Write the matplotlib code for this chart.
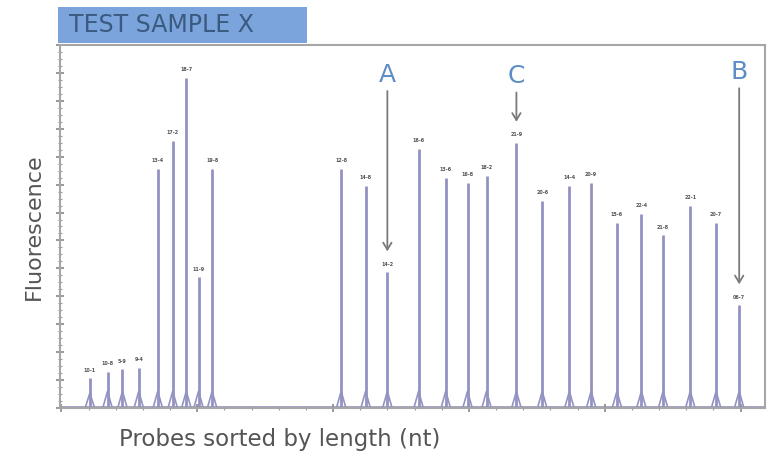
import matplotlib
matplotlib.use('Agg')
import matplotlib.pyplot as plt
from matplotlib.patches import Rectangle
from matplotlib.ticker import MultipleLocator

# peak positions (nt, estimated) and heights (arbitrary fluorescence units)
peak_pos = [121, 134, 145, 157, 171, 182, 192, 201, 211,
            306, 324, 340, 363, 383, 399, 413, 435, 454, 474, 490,
            509, 527, 543, 563, 582, 599]
peak_height = [1.07, 1.29, 1.39, 1.43, 8.57, 9.57, 11.82, 4.68, 8.57,
               8.57, 7.96, 4.86, 9.29, 8.25, 8.07, 8.32, 9.50, 7.43, 7.96,
               8.07, 6.64, 6.96, 6.18, 7.25, 6.64, 3.68]
peak_labels = ['10-1', '10-8', '5-9', '9-4', '13-4', '17-2', '18-7', '11-9',
               '19-8', '12-8', '14-8', '14-2', '16-6', '13-6', '16-8',
               '18-2', '21-9', '20-6', '14-4', '20-9', '15-6', '22-4',
               '21-8', '22-1', '20-7', '06-7']

# marked probes: letter, probe index, arrow start height
marks = [('A', 11, 11.5), ('C', 16, 11.45), ('B', 25, 11.6)]

PEAK_C = '#9393c2'
GRID_C = '#a6a6a6'
LETTER_C = '#5c8dc4'

fig = plt.figure(figsize=(7.7, 4.51), dpi=100)
ax = fig.add_axes([0.0779, 0.0953, 0.9156, 0.805])

ax.axhline(0.04, color=PEAK_C, lw=1.2, zorder=1)
ax.vlines(peak_pos, 0, peak_height, color=PEAK_C, lw=2.0, zorder=2)
for x, h in zip(peak_pos, peak_height):
    ax.plot([x - 3.5, x, x + 3.5], [0, min(0.6, h * 0.5), 0],
            color=PEAK_C, lw=1.2, zorder=2)
for x, h, lab in zip(peak_pos, peak_height, peak_labels):
    ax.text(x, h + 0.2, lab, ha='center', va='bottom', fontsize=3.5,
            color='#555555', fontweight='bold')

for letter, i, y0 in marks:
    x = peak_pos[i]
    ax.text(x, y0, letter, ha='center', va='bottom', fontsize=18,
            color=LETTER_C)
    ax.annotate('', xy=(x, peak_height[i] + 0.65), xytext=(x, y0 - 0.05),
                arrowprops=dict(arrowstyle='->,head_length=0.5,head_width=0.3',
                                color='#7a7a7a', lw=1.3))

ax.set_xlim(99, 618)
ax.set_ylim(0, 13)
ax.xaxis.set_major_locator(MultipleLocator(100))
ax.xaxis.set_minor_locator(MultipleLocator(20))
ax.yaxis.set_major_locator(MultipleLocator(1))
ax.yaxis.set_minor_locator(MultipleLocator(0.25))
ax.tick_params(axis='both', which='major', direction='inout', length=6,
               width=1.2, color='#888888', labelbottom=False, labelleft=False)
ax.tick_params(axis='both', which='minor', direction='inout', length=3,
               width=0.8, color='#999999')
for s in ax.spines.values():
    s.set_color(GRID_C)
    s.set_linewidth(1.5)

ax.set_ylabel('Fluorescence', fontsize=16, color='#555555', labelpad=7)
ax.set_xlabel('Probes sorted by length (nt)', fontsize=16.5, color='#555555')
ax.xaxis.set_label_coords(0.312, -0.055)

fig.patches.append(Rectangle((0.0753, 0.9047), 0.3234, 0.0798,
                             transform=fig.transFigure, facecolor='#7ba4dc',
                             edgecolor='none', zorder=5))
fig.text(0.09, 0.944, 'TEST SAMPLE X', fontsize=17, color='#3a5a80',
         va='center', ha='left', zorder=6)

fig.savefig('out.png', dpi=100)
